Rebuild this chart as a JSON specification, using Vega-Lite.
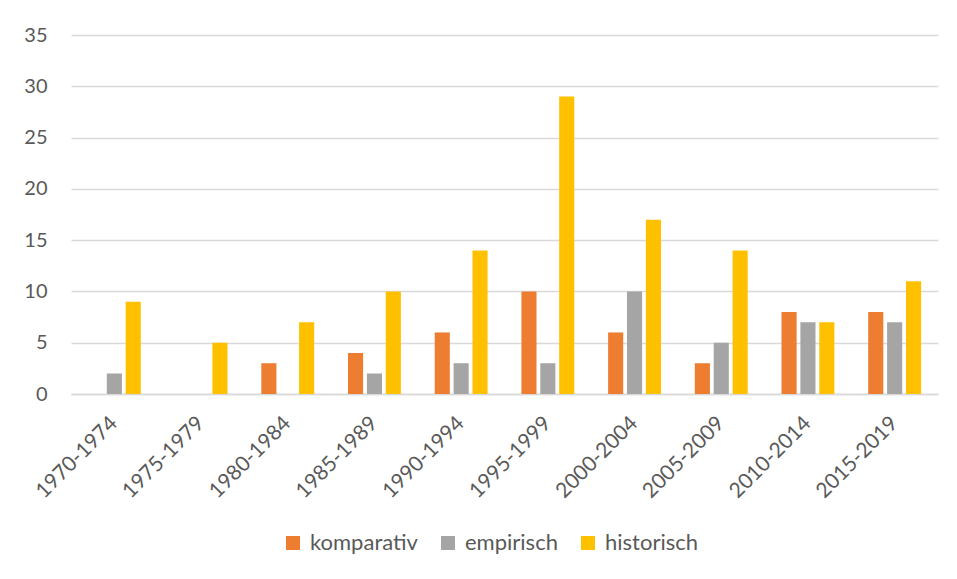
{
  "$schema": "https://vega.github.io/schema/vega-lite/v6.json",
  "width": 867,
  "height": 359,
  "autosize": {"type": "none"},
  "padding": {"left": 71, "top": 35, "right": 19, "bottom": 185},
  "background": "white",
  "data": {"values": [
    {"period": "1970-1974", "type": "komparativ", "n": 0},
    {"period": "1970-1974", "type": "empirisch", "n": 2},
    {"period": "1970-1974", "type": "historisch", "n": 9},
    {"period": "1975-1979", "type": "komparativ", "n": 0},
    {"period": "1975-1979", "type": "empirisch", "n": 0},
    {"period": "1975-1979", "type": "historisch", "n": 5},
    {"period": "1980-1984", "type": "komparativ", "n": 3},
    {"period": "1980-1984", "type": "empirisch", "n": 0},
    {"period": "1980-1984", "type": "historisch", "n": 7},
    {"period": "1985-1989", "type": "komparativ", "n": 4},
    {"period": "1985-1989", "type": "empirisch", "n": 2},
    {"period": "1985-1989", "type": "historisch", "n": 10},
    {"period": "1990-1994", "type": "komparativ", "n": 6},
    {"period": "1990-1994", "type": "empirisch", "n": 3},
    {"period": "1990-1994", "type": "historisch", "n": 14},
    {"period": "1995-1999", "type": "komparativ", "n": 10},
    {"period": "1995-1999", "type": "empirisch", "n": 3},
    {"period": "1995-1999", "type": "historisch", "n": 29},
    {"period": "2000-2004", "type": "komparativ", "n": 6},
    {"period": "2000-2004", "type": "empirisch", "n": 10},
    {"period": "2000-2004", "type": "historisch", "n": 17},
    {"period": "2005-2009", "type": "komparativ", "n": 3},
    {"period": "2005-2009", "type": "empirisch", "n": 5},
    {"period": "2005-2009", "type": "historisch", "n": 14},
    {"period": "2010-2014", "type": "komparativ", "n": 8},
    {"period": "2010-2014", "type": "empirisch", "n": 7},
    {"period": "2010-2014", "type": "historisch", "n": 7},
    {"period": "2015-2019", "type": "komparativ", "n": 8},
    {"period": "2015-2019", "type": "empirisch", "n": 7},
    {"period": "2015-2019", "type": "historisch", "n": 11}
  ]},
  "mark": {"type": "bar"},
  "encoding": {
    "x": {
      "field": "period", "type": "nominal", "sort": null,
      "scale": {"paddingInner": 0.39, "paddingOuter": 0.195},
      "axis": {
        "title": null, "labelAngle": -45, "labelFontSize": 21, "labelColor": "#595959",
        "labelFont": "Lato", "ticks": false, "domainColor": "#D9D9D9", "domainWidth": 1.5,
        "labelPadding": 26, "labelAlign": "right", "labelBaseline": "middle"
      }
    },
    "xOffset": {
      "field": "type", "type": "nominal",
      "sort": ["komparativ", "empirisch", "historisch"],
      "scale": {"paddingInner": 0.2}
    },
    "y": {
      "field": "n", "type": "quantitative",
      "scale": {"domain": [0, 35], "nice": false},
      "axis": {
        "title": null, "values": [0, 5, 10, 15, 20, 25, 30, 35], "labelFontSize": 20,
        "labelColor": "#595959", "labelFont": "Lato", "ticks": false, "domain": false,
        "gridColor": "#D9D9D9", "gridWidth": 1.5, "labelPadding": 24
      }
    },
    "color": {
      "field": "type", "type": "nominal",
      "sort": ["komparativ", "empirisch", "historisch"],
      "scale": {"domain": ["komparativ", "empirisch", "historisch"], "range": ["#ED7D31", "#A5A5A5", "#FFC000"]},
      "legend": {
        "title": null, "orient": "none", "legendX": 211, "legendY": 497, "direction": "horizontal", "symbolType": "square",
        "symbolSize": 196, "labelFontSize": 22, "labelColor": "#595959", "labelFont": "Lato",
        "columnPadding": 19, "labelOffset": 6, "symbolStrokeWidth": 0
      }
    }
  },
  "config": {"view": {"stroke": null}}
}
